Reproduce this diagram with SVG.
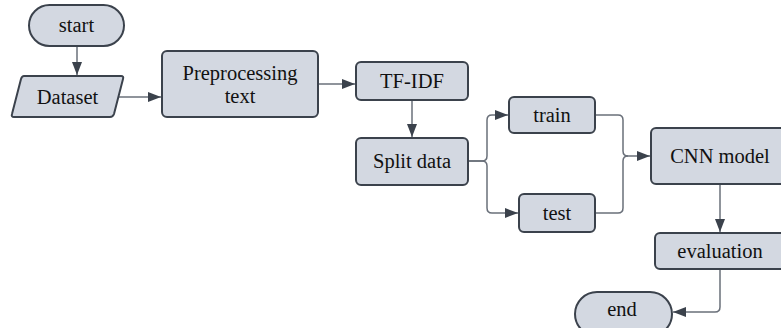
<svg xmlns="http://www.w3.org/2000/svg" width="781" height="328" viewBox="0 0 781 328">
<style>
.node{fill:#d3d8e1;stroke:#3b424c;stroke-width:2}
.lbl{font-family:"Liberation Serif","Times New Roman",serif;font-size:20.5px;fill:#111111;text-anchor:middle}
.edge{fill:none;stroke:#6a707a;stroke-width:1.5}
</style>
<defs>
<marker id="arr" markerUnits="userSpaceOnUse" markerWidth="14" markerHeight="12" refX="13" refY="6" orient="auto">
<path d="M0,1 L13,6 L0,11 Z" fill="#3b424c"/>
</marker>
</defs>
<rect width="781" height="328" fill="#ffffff"/>
<g id="connectors">
<path class="edge" d="M77,46 V75" marker-end="url(#arr)"/>
<path class="edge" d="M118,97 H161" marker-end="url(#arr)"/>
<path class="edge" d="M318,84 H355" marker-end="url(#arr)"/>
<path class="edge" d="M412,100 V137" marker-end="url(#arr)"/>
<path class="edge" d="M468,161 H482 Q487,161 487,156 V120 Q487,115 492,115 H508" marker-end="url(#arr)"/>
<path class="edge" d="M468,161 H482 Q487,161 487,166 V208 Q487,213 492,213 H518" marker-end="url(#arr)"/>
<path class="edge" d="M595,115 H618 Q623,115 623,120 V151 Q623,156 628,156 H650" marker-end="url(#arr)"/>
<path class="edge" d="M595,213 H618 Q623,213 623,208 V161 Q623,156 628,156"/>
<path class="edge" d="M720,184 V232" marker-end="url(#arr)"/>
<path class="edge" d="M720,269 V307 Q720,312 715,312 H673" marker-end="url(#arr)"/>
</g>
<g id="start">
<rect class="node" x="29" y="5" width="95" height="41" rx="20.5"/>
<text class="lbl" x="76.5" y="32">start</text>
</g>
<g id="dataset">
<path class="node" d="M24,76 H121 Q124,76 123,79 L114,114 Q113,117 110,117 H14 Q11,117 12,114 L21,79 Q22,76 24,76 Z"/>
<text class="lbl" x="67.5" y="104">Dataset</text>
</g>
<g id="preprocessing">
<rect class="node" x="162" y="51" width="156" height="66" rx="5"/>
<text class="lbl" x="240" y="80">Preprocessing</text>
<text class="lbl" x="240" y="103">text</text>
</g>
<g id="tfidf">
<rect class="node" x="356" y="62" width="112" height="38" rx="5"/>
<text class="lbl" x="412" y="88">TF-IDF</text>
</g>
<g id="split">
<rect class="node" x="356" y="138" width="112" height="47" rx="5"/>
<text class="lbl" x="412" y="168">Split data</text>
</g>
<g id="train">
<rect class="node" x="509" y="97" width="86" height="36" rx="5"/>
<text class="lbl" x="552" y="122">train</text>
</g>
<g id="test">
<rect class="node" x="519" y="194" width="76" height="38" rx="5"/>
<text class="lbl" x="557" y="220">test</text>
</g>
<g id="cnn">
<rect class="node" x="651" y="128" width="140" height="56" rx="5"/>
<text class="lbl" x="720" y="163">CNN model</text>
</g>
<g id="evaluation">
<rect class="node" x="655" y="233" width="132" height="36" rx="5"/>
<text class="lbl" x="720" y="258">evaluation</text>
</g>
<g id="end">
<rect class="node" x="575" y="292" width="97" height="44" rx="22"/>
<text class="lbl" x="622" y="316">end</text>
</g>
</svg>
